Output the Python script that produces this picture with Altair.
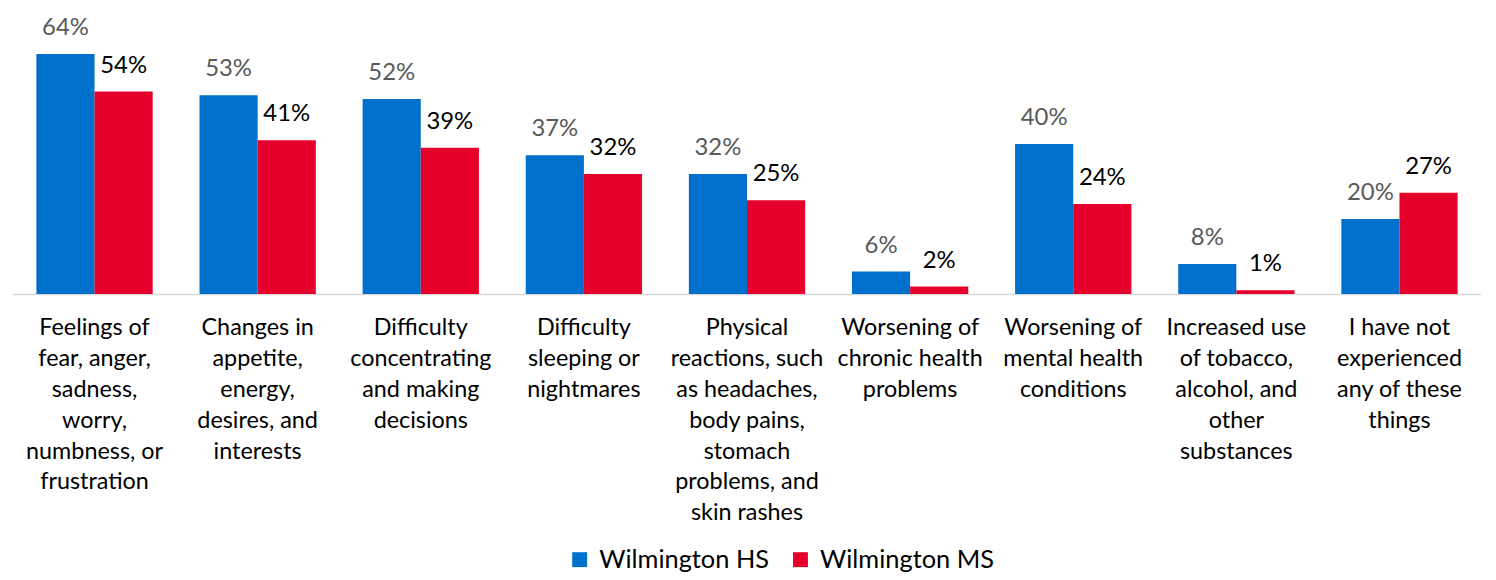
import altair as alt
import pandas as pd

categories = [
    "Feelings of|fear, anger,|sadness,|worry,|numbness, or|frustration",
    "Changes in|appetite,|energy,|desires, and|interests",
    "Difficulty|concentrating|and making|decisions",
    "Difficulty|sleeping or|nightmares",
    "Physical|reactions, such|as headaches,|body pains,|stomach|problems, and|skin rashes",
    "Worsening of|chronic health|problems",
    "Worsening of|mental health|conditions",
    "Increased use|of tobacco,|alcohol, and|other|substances",
    "I have not|experienced|any of these|things",
]
series = ["Wilmington HS", "Wilmington MS"]
hs_values = [64, 53, 52, 37, 32, 6, 40, 8, 20]
ms_values = [54, 41, 39, 32, 25, 2, 24, 1, 27]

rows = []
for c, h, m in zip(categories, hs_values, ms_values):
    rows.append({"category": c, "series": series[0], "value": h})
    rows.append({"category": c, "series": series[1], "value": m})
df = pd.DataFrame(rows)

FONT = "Lato"

x_enc = alt.X(
    "category:N",
    sort=categories,
    title=None,
    scale=alt.Scale(paddingInner=0.287, paddingOuter=0.1435),
    axis=alt.Axis(
        labelAngle=0,
        labelExpr="split(datum.label, '|')",
        labelFont=FONT,
        labelFontSize=23.5,
        labelColor="#000000",
        labelLineHeight=31,
        labelPadding=22,
        labelLimit=300,
        labelBaseline="top",
        ticks=False,
        domainColor="#d9d9d9",
        domainWidth=1.5,
    ),
)
xoff = alt.XOffset("series:N", sort=series)
y_enc = alt.Y(
    "value:Q",
    scale=alt.Scale(domain=[0, 70]),
    axis=None,
)

bars = alt.Chart(df).mark_bar().encode(
    x=x_enc,
    xOffset=xoff,
    y=y_enc,
    color=alt.Color(
        "series:N",
        sort=series,
        scale=alt.Scale(domain=series, range=["#0070CD", "#E4002B"]),
        legend=alt.Legend(
            title=None,
            orient="none",
            direction="horizontal",
            legendX=557,
            legendY=518,
            symbolType="square",
            symbolSize=225,
            symbolStrokeWidth=0,
            labelFont=FONT,
            labelFontSize=25.5,
            labelLimit=400,
            labelColor="#000000",
            columnPadding=18,
            labelOffset=7,
        ),
    ),
)

labels = alt.Chart(df).transform_calculate(
    label="datum.value + '%'"
).mark_text(
    font=FONT, fontSize=24, baseline="alphabetic", dy=-19
).encode(
    x=alt.X("category:N", sort=categories),
    xOffset=xoff,
    y=y_enc,
    text="label:N",
    color=alt.condition(
        alt.datum.series == series[0], alt.value("#595959"), alt.value("#000000")
    ),
)

chart = (
    alt.layer(bars, labels)
    .properties(
        width=1476,
        height=264,
        padding={"left": 5, "top": 22, "right": 7, "bottom": 278},
        autosize=alt.AutoSizeParams(type="none"),
    )
    .configure_view(stroke=None)
)

chart.save("out.html", embed_options={"renderer": "svg", "actions": False})
